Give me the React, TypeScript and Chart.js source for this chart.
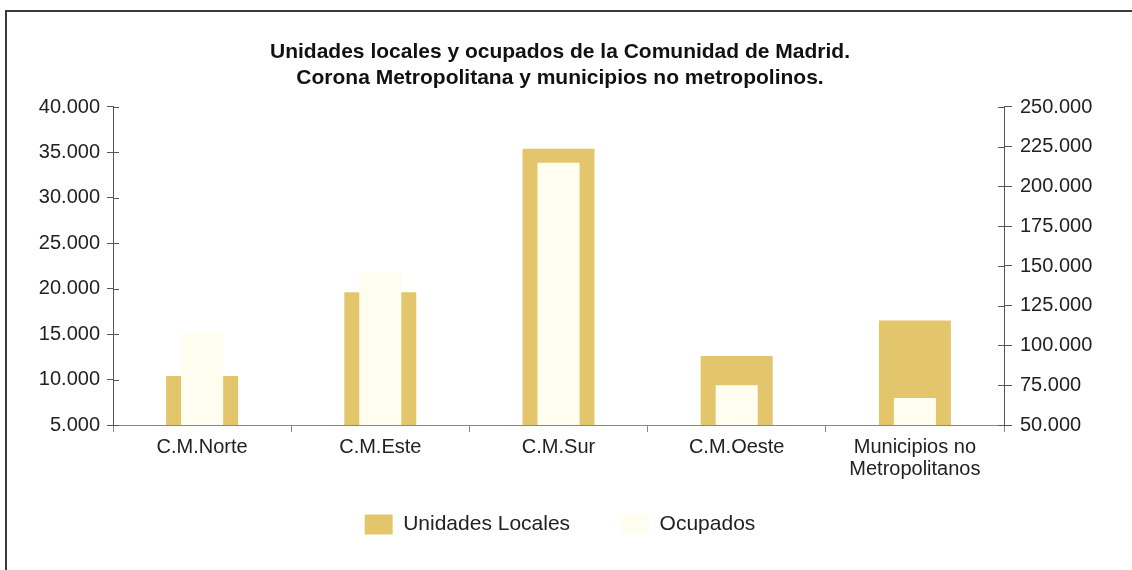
import React, { useEffect, useRef } from "react";
import { Chart, registerables } from "chart.js";

Chart.register(...registerables);

const categories: (string | string[])[] = [
  "C.M.Norte",
  "C.M.Este",
  "C.M.Sur",
  "C.M.Oeste",
  ["Municipios no", "Metropolitanos"],
];
const unidadesLocales = [10400, 19600, 35400, 12600, 16500];
const ocupados = [108000, 146000, 215000, 75000, 67000];
const titleLines = [
  "Unidades locales y ocupados de la Comunidad de Madrid.",
  "Corona Metropolitana y municipios no metropolinos.",
];
const seriesNames = ["Unidades Locales", "Ocupados"];

const GOLD = "#E3C66C";
const CREAM = "#FFFDEF";
const FONT = "'Liberation Sans', Arial, Helvetica, sans-serif";

const fmt = (v: number) => String(Math.round(v)).replace(/\B(?=(\d{3})+(?!\d))/g, ".");

const innerTicks = {
  id: "innerTicks",
  afterDraw(chart: any) {
    const ctx = chart.ctx;
    ctx.save();
    ctx.strokeStyle = "#555";
    ctx.lineWidth = 1;
    const left = chart.scales.y;
    const right = chart.scales.y1;
    left.ticks.forEach((t: any) => {
      const py = Math.round(left.getPixelForValue(t.value)) + 0.5;
      const x = left.right;
      ctx.beginPath();
      ctx.moveTo(x, py);
      ctx.lineTo(x + 6, py);
      ctx.stroke();
    });
    right.ticks.forEach((t: any) => {
      const py = Math.round(right.getPixelForValue(t.value)) + 0.5;
      const x = right.left;
      ctx.beginPath();
      ctx.moveTo(x, py);
      ctx.lineTo(x - 6, py);
      ctx.stroke();
    });
    ctx.restore();
  },
};

// legend sits closer to the x labels than its own item padding would allow
const legendLift = {
  id: "legendLift",
  afterLayout(chart: any) {
    const lg = chart.legend;
    if (!lg) return;
    const shift = 19;
    lg.top -= shift;
    lg.bottom -= shift;
  },
};

export default function App() {
  const ref = useRef<HTMLCanvasElement | null>(null);

  useEffect(() => {
    if (!ref.current) return;
    const chart = new Chart(ref.current, {
      type: "bar",
      data: {
        labels: categories as any,
        datasets: [
          {
            label: seriesNames[0],
            data: unidadesLocales,
            backgroundColor: GOLD,
            borderWidth: 0,
            yAxisID: "y",
            grouped: false,
            barPercentage: 0.404,
            categoryPercentage: 1,
            order: 1,
          },
          {
            label: seriesNames[1],
            data: ocupados,
            backgroundColor: CREAM,
            borderWidth: 0,
            yAxisID: "y1",
            grouped: false,
            barPercentage: 0.236,
            categoryPercentage: 1,
            order: 0,
          },
        ] as any,
      },
      options: {
        animation: false,
        responsive: false,
        maintainAspectRatio: false,
        layout: { padding: { top: 39, left: 0, right: 12, bottom: 6 } },
        plugins: {
          tooltip: { enabled: false },
          title: {
            display: true,
            text: titleLines,
            color: "#111",
            font: { family: FONT, size: 21, weight: "bold", lineHeight: 1.238 },
            padding: { top: 0, bottom: 16 },
          },
          legend: {
            display: true,
            position: "bottom",
            labels: {
              color: "#222",
              font: { family: FONT, size: 21 },
              boxWidth: 28,
              boxHeight: 20,
              padding: 51,
              sort: (a: any, b: any) => a.datasetIndex - b.datasetIndex,
            },
          },
        },
        scales: {
          x: {
            grid: {
              display: true,
              offset: true,
              drawOnChartArea: false,
              drawTicks: true,
              tickLength: 7,
              color: "#888",
            },
            border: { display: true, color: "#888" },
            ticks: {
              color: "#222",
              font: { family: FONT, size: 20, lineHeight: 1.1 },
              padding: 4,
              maxRotation: 0,
              autoSkip: false,
            },
            afterFit: (s: any) => {
              s.height = 57;
            },
          },
          y: {
            position: "left",
            min: 5000,
            max: 40000,
            grid: {
              display: true,
              drawOnChartArea: false,
              drawTicks: true,
              tickLength: 6,
              color: "#555",
            },
            border: { display: true, color: "#555" },
            ticks: {
              stepSize: 5000,
              color: "#222",
              font: { family: FONT, size: 20 },
              padding: 7,
              callback: (v: any) => fmt(Number(v)),
            },
            afterFit: (s: any) => {
              s.width = 113;
            },
          },
          y1: {
            position: "right",
            min: 50000,
            max: 250000,
            grid: {
              display: true,
              drawOnChartArea: false,
              drawTicks: true,
              tickLength: 8,
              color: "#555",
            },
            border: { display: true, color: "#555" },
            ticks: {
              stepSize: 25000,
              color: "#222",
              font: { family: FONT, size: 20 },
              padding: 8,
              callback: (v: any) => fmt(Number(v)),
            },
            afterFit: (s: any) => {
              s.width = 116;
            },
          },
        },
      } as any,
      plugins: [innerTicks, legendLift],
    });
    return () => chart.destroy();
  }, []);

  return (
    <div
      style={{
        position: "fixed",
        left: 0,
        top: 0,
        width: 1132,
        height: 570,
        background: "#fff",
        overflow: "hidden",
      }}
    >
      <canvas
        ref={ref}
        width={1132}
        height={570}
        style={{ position: "absolute", left: 0, top: 0, width: 1132, height: 570 }}
      />
      <div
        style={{
          position: "absolute",
          left: 5,
          top: 10,
          right: -20,
          bottom: -20,
          borderLeft: "2px solid #3a3a3a",
          borderTop: "2px solid #3a3a3a",
          pointerEvents: "none",
        }}
      />
    </div>
  );
}
